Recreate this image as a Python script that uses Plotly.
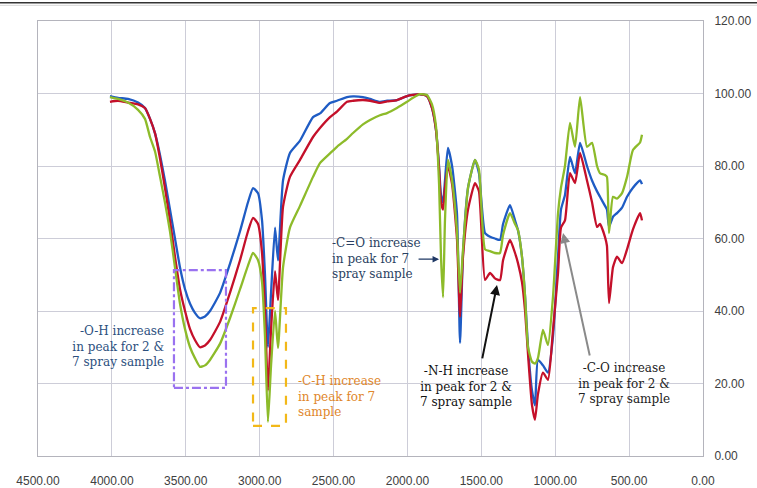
import plotly.graph_objects as go

wavenumber = [4013, 3959, 3891, 3823, 3776, 3742, 3708, 3674, 3641, 3607, 3573, 3539, 3505, 3471,
              3438, 3404, 3370, 3336, 3268, 3201, 3133, 3079, 3045, 3011, 2984, 2964, 2944, 2923,
              2896, 2876, 2842, 2795, 2727, 2639, 2592, 2524, 2477, 2409, 2368, 2301, 2253, 2186,
              2138, 2071, 2003, 1962, 1915, 1868, 1834, 1807, 1786, 1773, 1759, 1746, 1726, 1698,
              1665, 1644, 1624, 1590, 1543, 1516, 1475, 1441, 1408, 1374, 1353, 1306, 1272, 1252,
              1225, 1204, 1184, 1157, 1137, 1117, 1083, 1049, 1015, 981, 961, 934, 900, 866, 832,
              785, 751, 717, 697, 663, 650, 636, 609, 582, 548, 514, 474, 426, 413]

blue = [99.3, 98.8, 98.5, 97.5, 96, 93, 89, 83, 76, 68, 60, 52, 46, 42,
        39.5, 38, 38.5, 40, 45, 53, 62, 70, 73.9, 72.5, 65, 50, 30, 45,
        63, 54, 76, 83.6, 87, 93.5, 94.5, 97.4, 98, 99, 99.2, 99, 98.5, 97.7,
        98, 98.2, 99.3, 99.6, 99.8, 99.3, 96, 90, 80, 72, 70, 76, 85, 80,
        67, 31.2, 56, 74, 81.7, 78, 61.5, 60.5, 60, 59.6, 64, 69.2, 65, 62.3,
        55, 44, 30, 18, 14, 26.5, 25, 23, 33, 55, 68, 72, 82.5, 78, 86.4,
        80, 76, 73, 71.5, 69, 68, 63.2, 66, 67, 68.5, 71.5, 74, 76, 75]

red = [97.7, 98, 97.5, 97, 96, 93, 89, 82, 74, 65, 55, 46, 40, 35,
       32, 30, 30.5, 32, 37, 45, 54, 62, 65.7, 64, 56, 40, 18, 35,
       51, 43, 68.7, 77, 81.7, 88, 90.5, 93.5, 95, 97.7, 98, 98.2, 98, 97.4,
       97.8, 98.2, 99.3, 99.6, 99.8, 99.3, 96, 90, 79, 70, 68, 74, 80, 75,
       60, 38.4, 55, 68, 75.3, 73, 48.6, 50.5, 49, 48.5, 54, 59.6, 56, 53.2,
       48, 40, 28, 14, 10, 17, 23, 21, 34.8, 50.5, 63, 65, 78, 75.3, 83.6,
       76, 70, 63.2, 64, 60.4, 58, 42.2, 52.1, 55, 53.2, 57, 62.5, 67, 65]

green = [99, 98.5, 97.5, 95.5, 93, 88, 84, 77, 70, 62, 52, 42, 35, 30,
         27, 24.6, 25, 26.5, 31, 38, 46, 52.5, 56, 54, 48, 33, 9.4, 25,
         40, 29.8, 52, 63, 69, 77, 80.8, 83.5, 85.3, 87.5, 89.1, 91.5, 92.7, 94,
         94.6, 96, 97.7, 98.8, 99.8, 99.6, 97, 91, 75, 55, 43.8, 65, 81.7, 76,
         62, 45, 57, 74, 81.7, 79, 57, 56.5, 56, 56, 61, 67, 64, 62.3,
         55, 44, 30, 26, 25.5, 27, 34.8, 30.6, 44, 67, 74, 80, 91.9, 85.3, 99,
         85.3, 86.4, 80, 78, 77.5, 77, 61.5, 71.5, 71, 72.5, 77, 84.4, 86.5, 88.6]

x_ticks = [4500, 4000, 3500, 3000, 2500, 2000, 1500, 1000, 500, 0]
y_ticks = [0, 20, 40, 60, 80, 100, 120]

oh_text = "-O-H increase<br>in peak for 2 &amp;<br>7 spray sample"
ch_text = "-C-H increase<br>in peak for 7<br>sample"
co2_text = "-C=O increase<br>in peak for 7<br>spray sample"
nh_text = "-N-H increase<br>in peak for 2 &amp;<br>7 spray sample"
co_text = "-C-O increase<br>in peak for 2 &amp;<br>7 spray sample"

fig = go.Figure()
fig.add_trace(go.Scatter(x=wavenumber, y=blue, mode="lines", name="blue",
                         line=dict(color="#1f5cc4", width=2.3, shape="spline", smoothing=0.5)))
fig.add_trace(go.Scatter(x=wavenumber, y=red, mode="lines", name="red",
                         line=dict(color="#c4102a", width=2.3, shape="spline", smoothing=0.5)))
fig.add_trace(go.Scatter(x=wavenumber, y=green, mode="lines", name="green",
                         line=dict(color="#8dbb2a", width=2.3, shape="spline", smoothing=0.5)))

grid = "#cdcdd8"
fig.update_layout(
    width=757, height=488,
    margin=dict(l=38, r=54, t=21, b=32, autoexpand=False),
    paper_bgcolor="white", plot_bgcolor="white",
    showlegend=False,
    font=dict(family="Liberation Sans, Arial, sans-serif", size=12, color="#404040"),
    xaxis=dict(range=[4500, 0], tickvals=x_ticks, tickformat=".2f", automargin=False,
               showgrid=True, gridcolor=grid, gridwidth=1,
               showline=True, linecolor="#b4b4bc", linewidth=1, mirror=True,
               zeroline=False, ticks="", ticklabelstandoff=14),
    yaxis=dict(range=[0, 120], tickvals=y_ticks, tickformat=".2f", side="right", automargin=False,
               showgrid=True, gridcolor=grid, gridwidth=1,
               showline=True, linecolor="#b4b4bc", linewidth=1, mirror=True,
               zeroline=False, ticks="", ticklabelstandoff=8),
)

# top rule lines
fig.add_shape(type="line", xref="paper", yref="paper", x0=-0.06, x1=1.09, y0=1.042, y1=1.042,
              line=dict(color="#333333", width=1.5))
fig.add_shape(type="line", xref="paper", yref="paper", x0=-0.06, x1=1.09, y0=1.036, y1=1.036,
              line=dict(color="#d8d8d8", width=1))

# highlight boxes
fig.add_shape(type="rect", x0=3580, x1=3228, y0=18.8, y1=51.3,
              line=dict(color="#9a72f0", width=2.2, dash="dashdot"))
fig.add_shape(type="rect", x0=3045, x1=2822, y0=8.3, y1=40.8,
              line=dict(color="#f2b818", width=2.2, dash="dash"))

serif = "DejaVu Serif"
fsize = 12


def add_block(text, x, y, color, anchor):
    fig.add_annotation(x=x, y=y, text=text, showarrow=False,
                       xanchor=anchor, yanchor="middle", align=anchor,
                       font=dict(family=serif, size=fsize, color=color))


add_block(oh_text, 3634, 30.1, "#2c4f7e", "right")
add_block(ch_text, 2754, 16.3, "#e0862a", "left")
add_block(co2_text, 2524, 54.6, "#2a3f62", "left")
add_block(nh_text, 1604, 19.3, "#111111", "center")
add_block(co_text, 534, 20.1, "#222222", "center")

# arrows
fig.add_annotation(x=1786, y=54.3, ax=-22, ay=0, text="", showarrow=True,
                   arrowhead=2, arrowsize=1, arrowwidth=1.3, arrowcolor="#1f3864")
fig.add_annotation(x=1394, y=47.2, ax=-15, ay=75, text="", showarrow=True,
                   arrowhead=2, arrowsize=1, arrowwidth=2, arrowcolor="#111111")
fig.add_annotation(x=947, y=61.5, ax=27, ay=124, text="", showarrow=True,
                   arrowhead=2, arrowsize=1, arrowwidth=2, arrowcolor="#8a8a8a")

fig.write_html("out.html")
